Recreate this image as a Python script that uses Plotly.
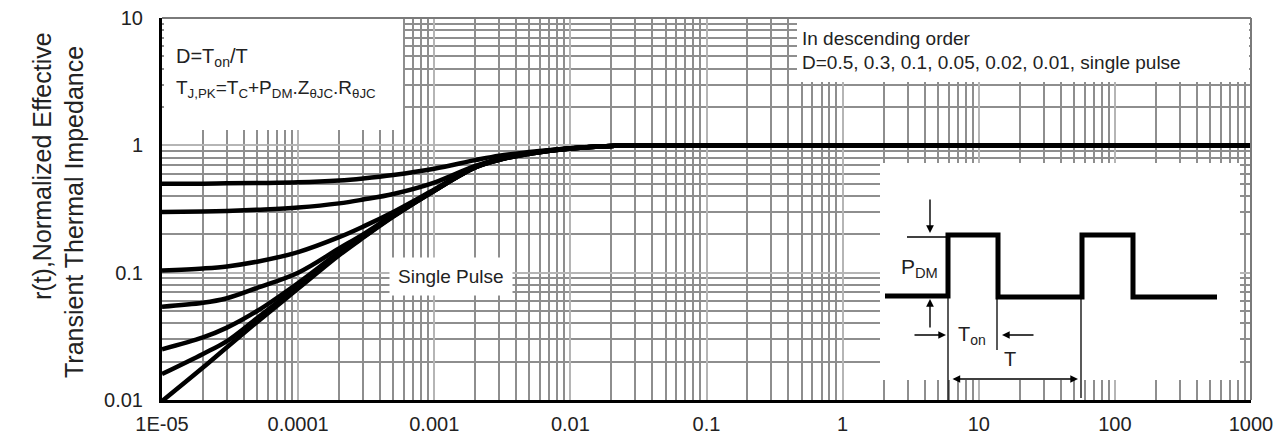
import plotly.graph_objects as go

# ---- data ----
t_vals = [1e-5, 2e-5, 3e-5, 5e-5, 1e-4, 2e-4, 3e-4, 5e-4, 1e-3, 2e-3, 3e-3, 5e-3,
          1e-2, 2e-2, 5e-2, 1e-1, 1, 10, 100, 1000]
r_d050 = [0.50, 0.50, 0.503, 0.506, 0.512, 0.53, 0.55, 0.585, 0.655, 0.765, 0.83, 0.885,
          0.95, 0.99, 1.0, 1.0, 1.0, 1.0, 1.0, 1.0]
r_d030 = [0.30, 0.302, 0.305, 0.312, 0.325, 0.35, 0.375, 0.415, 0.51, 0.69, 0.78, 0.87,
          0.95, 0.99, 1.0, 1.0, 1.0, 1.0, 1.0, 1.0]
r_d010 = [0.104, 0.108, 0.112, 0.122, 0.145, 0.19, 0.23, 0.30, 0.45, 0.68, 0.78, 0.865,
          0.945, 0.99, 1.0, 1.0, 1.0, 1.0, 1.0, 1.0]
r_d005 = [0.054, 0.058, 0.063, 0.076, 0.10, 0.155, 0.20, 0.285, 0.445, 0.675, 0.775, 0.865,
          0.945, 0.99, 1.0, 1.0, 1.0, 1.0, 1.0, 1.0]
r_d002 = [0.025, 0.031, 0.037, 0.050, 0.083, 0.145, 0.195, 0.28, 0.44, 0.67, 0.77, 0.86,
          0.945, 0.99, 1.0, 1.0, 1.0, 1.0, 1.0, 1.0]
r_d001 = [0.016, 0.023, 0.029, 0.044, 0.078, 0.14, 0.19, 0.278, 0.44, 0.67, 0.77, 0.86,
          0.945, 0.99, 1.0, 1.0, 1.0, 1.0, 1.0, 1.0]
r_single = [0.0098, 0.018, 0.026, 0.041, 0.075, 0.137, 0.188, 0.275, 0.44, 0.67, 0.77, 0.86,
            0.945, 0.99, 1.0, 1.0, 1.0, 1.0, 1.0, 1.0]
series = [r_d050, r_d030, r_d010, r_d005, r_d002, r_d001, r_single]
series_names = ["D=0.5", "D=0.3", "D=0.1", "D=0.05", "D=0.02", "D=0.01", "single pulse"]

x_tickvals = [1e-5, 1e-4, 1e-3, 1e-2, 1e-1, 1, 10, 100, 1000]
x_ticktext = ["1E-05", "0.0001", "0.001", "0.01", "0.1", "1", "10", "100", "1000"]
y_tickvals = [0.01, 0.1, 1, 10]
y_ticktext = ["0.01", "0.1", "1", "10"]

x_minor = [k * 10 ** e for e in range(-5, 3) for k in range(2, 10)]
y_minor = [k * 10 ** e for e in range(-2, 1) for k in range(2, 10)]

# ---- layout geometry (page pixels; the page has an 8px body margin) ----
PAGE_W, PAGE_H, OFF = 1282, 441, 8
W, H = PAGE_W - OFF, PAGE_H - OFF
L, R, T, B = 162, 1251, 18, 400


def X(px):
    return (px - L) / (R - L)


def Y(py):
    return (B - py) / (B - T)


FONT = "Liberation Sans, Arial, sans-serif"
TXT = "#222"

fig = go.Figure()
for vals, name in zip(series, series_names):
    fig.add_trace(go.Scatter(x=t_vals, y=vals, mode="lines", name=name,
                             line=dict(color="black", width=4.5, shape="spline", smoothing=1.0),
                             showlegend=False))

grid_major = "#b5b5b5"
grid_minor = "#8e8e8e"

fig.update_layout(
    width=W, height=H,
    margin=dict(l=L - OFF, r=PAGE_W - R, t=T - OFF, b=PAGE_H - B, autoexpand=False),
    paper_bgcolor="white", plot_bgcolor="white",
    font=dict(family=FONT, size=19, color=TXT),
    xaxis=dict(type="log", range=[-5, 3], tickmode="array", tickvals=x_tickvals,
               ticktext=x_ticktext, showgrid=True, gridcolor=grid_major, gridwidth=1.5,
               minor=dict(tickmode="array", tickvals=x_minor, showgrid=True,
                          gridcolor=grid_minor, gridwidth=1.8, ticks=""),
               showline=True, linecolor="black", linewidth=3, ticks="", zeroline=False,
               automargin=False, ticklabeloverflow="allow",
               ticklabelstandoff=4, tickfont=dict(size=20, color=TXT)),
    yaxis=dict(type="log", range=[-2, 1], tickmode="array", tickvals=y_tickvals,
               ticktext=y_ticktext, showgrid=True, gridcolor=grid_major, gridwidth=1.5,
               minor=dict(tickmode="array", tickvals=y_minor, showgrid=True,
                          gridcolor=grid_minor, gridwidth=1.8, ticks=""),
               showline=True, linecolor="black", linewidth=3, ticks="", zeroline=False,
               automargin=False, ticklabeloverflow="allow",
               ticklabelstandoff=12, tickfont=dict(size=20, color=TXT)),
)

shapes = []
# white boxes hiding the grid
for (x0, y0, x1, y1) in [(164, 19, 403, 130), (797, 19, 1249, 82), (880, 163, 1240, 380)]:
    shapes.append(dict(type="rect", xref="paper", yref="paper", x0=X(x0), x1=X(x1),
                       y0=Y(y1), y1=Y(y0), fillcolor="white", line=dict(width=0),
                       layer="above"))
# grey top / right frame
shapes.append(dict(type="line", xref="paper", yref="paper", x0=0, x1=1, y0=1, y1=1,
                   line=dict(color="#7a7a7a", width=2), layer="above"))
shapes.append(dict(type="line", xref="paper", yref="paper", x0=1, x1=1, y0=0, y1=1,
                   line=dict(color="#7a7a7a", width=2), layer="above"))
# pulse waveform
wave = [(885, 296), (948, 296), (948, 235), (998, 235), (998, 297), (1082, 297),
        (1082, 235), (1133, 235), (1133, 297), (1217, 297)]
path = "M " + " L ".join(f"{X(a):.5f},{Y(b):.5f}" for a, b in wave)
shapes.append(dict(type="path", xref="paper", yref="paper", path=path,
                   line=dict(color="black", width=5), layer="above"))
for (x0, y0, x1, y1) in [(907, 237, 948, 237), (948, 296, 948, 400), (997, 297, 997, 350),
                         (1081, 297, 1081, 398)]:
    shapes.append(dict(type="line", xref="paper", yref="paper", x0=X(x0), x1=X(x1),
                       y0=Y(y0), y1=Y(y1), line=dict(color="black", width=1.3), layer="above"))
fig.update_layout(shapes=shapes)

ann = []
# y-axis title (two lines)
ann.append(dict(xref="paper", yref="paper", x=X(42), y=Y(166), text="r(t),Normalized Effective",
                textangle=-90, showarrow=False, font=dict(size=25, color=TXT),
                xanchor="center", yanchor="middle"))
ann.append(dict(xref="paper", yref="paper", x=X(74), y=Y(212), text="Transient Thermal Impedance",
                textangle=-90, showarrow=False, font=dict(size=25, color=TXT),
                xanchor="center", yanchor="middle"))
# text boxes
ann.append(dict(xref="paper", yref="paper", x=X(174), y=Y(57), text="D=T<sub>on</sub>/T",
                showarrow=False, xanchor="left", yanchor="middle", font=dict(size=20, color=TXT)))
ann.append(dict(xref="paper", yref="paper", x=X(174), y=Y(89),
                text="T<sub>J,PK</sub>=T<sub>C</sub>+P<sub>DM</sub>.Z<sub>θJC</sub>.R<sub>θJC</sub>",
                showarrow=False, xanchor="left", yanchor="middle", font=dict(size=19, color=TXT)))
ann.append(dict(xref="paper", yref="paper", x=X(800), y=Y(38), text="In descending order",
                showarrow=False, xanchor="left", yanchor="middle", font=dict(size=19, color=TXT)))
ann.append(dict(xref="paper", yref="paper", x=X(800), y=Y(62),
                text="D=0.5, 0.3, 0.1, 0.05, 0.02, 0.01, single pulse",
                showarrow=False, xanchor="left", yanchor="middle", font=dict(size=19, color=TXT)))
ann.append(dict(xref="paper", yref="paper", x=X(451), y=Y(276), text="Single Pulse",
                showarrow=False, xanchor="center", yanchor="middle", bgcolor="white",
                borderpad=8, font=dict(size=19, color=TXT)))
# inset labels
ann.append(dict(xref="paper", yref="paper", x=X(940), y=Y(268), text="P<sub>DM</sub>",
                showarrow=False, font=dict(size=21, color=TXT)))
ann.append(dict(xref="paper", yref="paper", x=X(988), y=Y(350), text="T<sub>on</sub>",
                showarrow=False, font=dict(size=20, color=TXT)))
ann.append(dict(xref="paper", yref="paper", x=X(1018), y=Y(372), text="T",
                showarrow=False, font=dict(size=20, color=TXT)))
# arrows
arrow_style = dict(showarrow=True, arrowhead=2, arrowsize=1.1, arrowwidth=1.4,
                   arrowcolor="black", text="", xref="paper", yref="paper")
for (hx, hy, ax, ay) in [(930, 233, 0, -35), (930, 299, 0, 30), (946, 335, -33, 0),
                         (1002, 335, 33, 0)]:
    ann.append(dict(x=X(hx), y=Y(hy), ax=ax, ay=ay, **arrow_style))
ann.append(dict(x=X(1078), y=Y(379), ax=-127, ay=0, arrowside="end+start", **arrow_style))
fig.update_layout(annotations=ann)

fig.write_html("out.html")
